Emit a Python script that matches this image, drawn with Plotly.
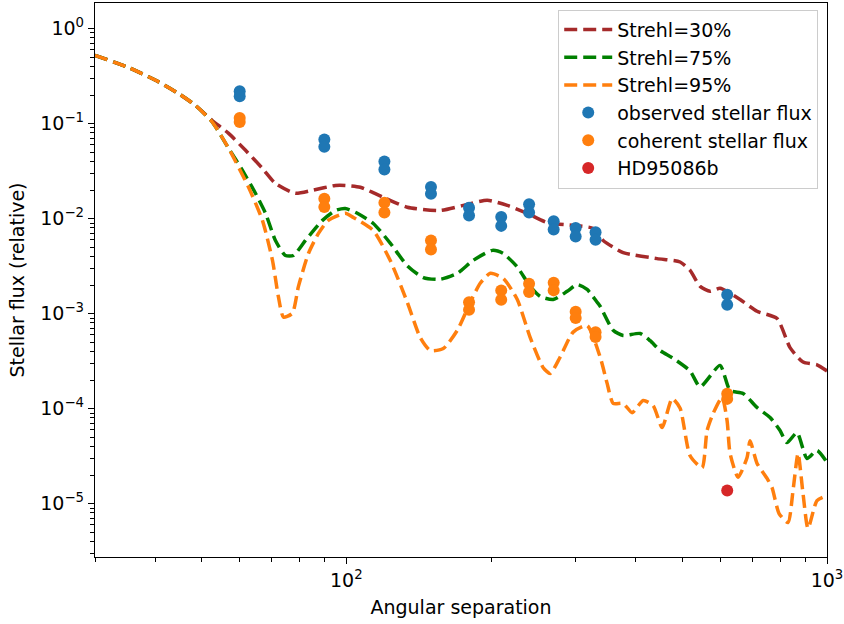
import plotly.graph_objects as go

# ---- model contrast curves (angular separation, relative stellar flux) ----
sep_s30 = [30, 35.2, 40.1, 44.7, 48.5, 52.6, 56.9, 61.7, 66.9, 71.2,
           78.3, 85.0, 94.9, 99.5, 106.9, 119.4, 133.9, 156.8, 175.1, 196.4,
           216.2, 237.8, 261.8, 296.4, 326.2, 342.2, 376.6, 443.2, 494.8, 519,
           544.5, 571.2, 599.1, 659.4, 715.3, 787.1, 837.7, 891.5, 953.3, 1000]
flux_s30 = [0.524, 0.39, 0.286, 0.208, 0.156, 0.108, 0.079, 0.0524, 0.0338, 0.0235,
            0.0185, 0.0199, 0.0224, 0.0224, 0.0214, 0.0168, 0.0132, 0.0122, 0.0138, 0.0156,
            0.0138, 0.0114, 0.0091, 0.0085, 0.0079, 0.0059, 0.0044, 0.0038, 0.0035, 0.00286,
            0.00194, 0.00172, 0.00185, 0.00141, 0.00106, 0.00089, 0.00044, 0.00031, 0.00029, 0.00025]

sep_s75 = [30, 35.2, 40.1, 44.7, 48.5, 52.6, 56.9, 60.8, 64.7, 67.9,
           71.2, 74.7, 77.6, 82.2, 89.2, 94.9, 99.5, 105.4, 113.8, 123.5,
           133.9, 144.6, 156.8, 170.2, 183.6, 201.2, 212.1, 226.8, 241.3, 253.2,
           269.4, 288, 302.2, 316.9, 332.5, 337.3, 359, 376.6, 408.6, 428.6,
           449.6, 478.5, 519, 544.5, 599.1, 628.5, 669, 715.3, 761.3, 798.6,
           825.7, 866.2, 908.7, 953.3, 1000]
flux_s75 = [0.524, 0.39, 0.286, 0.208, 0.156, 0.104, 0.055, 0.0322, 0.0185, 0.0114,
            0.0059, 0.0041, 0.0041, 0.0059, 0.0096, 0.0122, 0.0128, 0.0114, 0.0089, 0.0055,
            0.0032, 0.0024, 0.0023, 0.00266, 0.00364, 0.00464, 0.0043, 0.0031, 0.00194, 0.00152,
            0.00141, 0.00172, 0.00203, 0.0018, 0.00132, 0.0012, 0.00067, 0.00059, 0.00062, 0.00052,
            0.00041, 0.00034, 0.00025, 0.00017, 0.000286, 0.000156, 0.000145, 0.000103, 8.1e-5, 5.9e-5,
            4.4e-5, 5.6e-5, 3.0e-5, 3.64e-5, 2.72e-5]

sep_s95 = [30, 35.2, 40.1, 44.7, 48.5, 52.6, 56.9, 62.6, 66.9, 70.2,
           72.2, 74.0, 77.2, 79.5, 83.4, 87.5, 91.7, 99.5, 103.4, 113.8,
           123.5, 133.9, 142.5, 149.5, 159.1, 170.2, 181.1, 189.9, 199.3, 212.1,
           226.8, 241.3, 256.8, 265.6, 278.5, 296.4, 316.9, 337.3, 348.8, 359,
           376.6, 393.2, 414.5, 434.8, 454, 476.3, 494.8, 519, 549.7, 563,
           579.4, 604.9, 619.6, 628.5, 653.1, 681.9, 691.7, 715.3, 750.4, 768.6,
           794.8, 829.7, 849.8, 870.4, 891.5, 913.1, 953.3, 1000]
flux_s95 = [0.524, 0.39, 0.286, 0.208, 0.156, 0.104, 0.055, 0.0214, 0.0096, 0.00364,
            0.00152, 0.00092, 0.00101, 0.00194, 0.0043, 0.007, 0.0096, 0.0114, 0.0103, 0.0075,
            0.0036, 0.00132, 0.00056, 0.00041, 0.00043, 0.00067, 0.00132, 0.00209, 0.00266, 0.00235,
            0.00141, 0.00056, 0.00027, 0.000235, 0.00035, 0.00064, 0.00075, 0.00035, 0.000185, 0.000114,
            0.000114, 9.1e-5, 0.000122, 0.000108, 6.35e-5, 0.000128, 0.000101, 3.2e-5, 2.4e-5, 5.9e-5,
            8.9e-5, 0.000132, 7.5e-5, 3.4e-5, 1.9e-5, 3.07e-5, 4.6e-5, 2.66e-5, 1.85e-5, 1.48e-5,
            7.9e-6, 6.35e-6, 1.38e-5, 3.38e-5, 1.28e-5, 5.5e-6, 1.08e-5, 1.22e-5]

# ---- measured points (two measurements per separation) ----
sep_points = [60, 90, 120, 150, 180, 210, 240, 270, 300, 330, 620]
observed_a = [0.219, 0.068, 0.040, 0.0215, 0.0130, 0.0104, 0.0142, 0.0094, 0.0080, 0.0072, 0.00158]
observed_b = [0.194, 0.057, 0.033, 0.0183, 0.0108, 0.0084, 0.0116, 0.0077, 0.0065, 0.0060, 0.00124]
coherent_a = [0.1146, 0.0162, 0.0147, 0.0059, 0.00132, 0.00176, 0.00207, 0.00212, 0.00105, 0.00064, 0.000144]
coherent_b = [0.104, 0.0133, 0.0116, 0.00475, 0.0011, 0.0014, 0.00169, 0.00176, 0.00090, 0.00057, 0.000127]
planet_sep = [620]
planet_flux = [1.38e-5]

# ---- axis ticks ----
x_tickvals = [100, 1000]
x_ticktext = ["10<sup>2</sup>", "10<sup>3</sup>"]
y_tickvals = [1e-5, 1e-4, 1e-3, 1e-2, 1e-1, 1]
y_ticktext = ["10<sup>\u22125</sup>", "10<sup>\u22124</sup>", "10<sup>\u22123</sup>",
              "10<sup>\u22122</sup>", "10<sup>\u22121</sup>", "10<sup>0</sup>"]

FONT = "DejaVu Sans"
FS = 19
fig = go.Figure()

line_style = dict(width=3.5, dash="13px,6px", shape="spline", smoothing=0.6)
for name, xs, ys, col in [("Strehl=30%", sep_s30, flux_s30, "#a52a2a"),
                          ("Strehl=75%", sep_s75, flux_s75, "#008000"),
                          ("Strehl=95%", sep_s95, flux_s95, "#ff7f0e")]:
    fig.add_trace(go.Scatter(x=xs, y=ys, mode="lines", name=name,
                             line=dict(color=col, **line_style)))

fig.add_trace(go.Scatter(x=sep_points + sep_points, y=observed_a + observed_b,
                         mode="markers", name="observed stellar flux",
                         marker=dict(color="#1f77b4", size=12)))
fig.add_trace(go.Scatter(x=sep_points + sep_points, y=coherent_a + coherent_b,
                         mode="markers", name="coherent stellar flux",
                         marker=dict(color="#ff7f0e", size=12)))
fig.add_trace(go.Scatter(x=planet_sep, y=planet_flux,
                         mode="markers", name="HD95086b",
                         marker=dict(color="#d62728", size=12)))

axis_common = dict(showline=True, linecolor="black", linewidth=1.3, mirror=True,
                   ticks="outside", ticklen=6, tickwidth=1.2, tickcolor="black",
                   showgrid=False, zeroline=False, automargin=False,
                   tickfont=dict(family=FONT, size=FS, color="black"),
                   minor=dict(ticks="outside", ticklen=3.5, tickwidth=1, tickcolor="black",
                              dtick="D1", showgrid=False))

fig.update_xaxes(type="log", range=[1.4771, 3.0], tickvals=x_tickvals, ticktext=x_ticktext,
                 title=dict(text="Angular separation", font=dict(family=FONT, size=FS, color="black"),
                            standoff=10),
                 **axis_common)
fig.update_yaxes(type="log", range=[-5.56, 0.2695], tickvals=y_tickvals, ticktext=y_ticktext,
                 title=dict(text="Stellar flux (relative)", font=dict(family=FONT, size=FS, color="black"),
                            standoff=10),
                 **axis_common)

fig.update_layout(
    width=844, height=624,
    margin=dict(l=95, r=17, t=3, b=67),
    plot_bgcolor="white", paper_bgcolor="white",
    font=dict(family=FONT, size=FS, color="black"),
    legend=dict(x=0.988, y=0.988, xanchor="right", yanchor="top",
                bgcolor="rgba(255,255,255,0.85)", bordercolor="#cccccc", borderwidth=1,
                font=dict(family=FONT, size=FS, color="black"),
                itemwidth=48),
)

fig.write_html("out.html", config={"displayModeBar": False},
               post_script="document.body.style.margin='0px';")
